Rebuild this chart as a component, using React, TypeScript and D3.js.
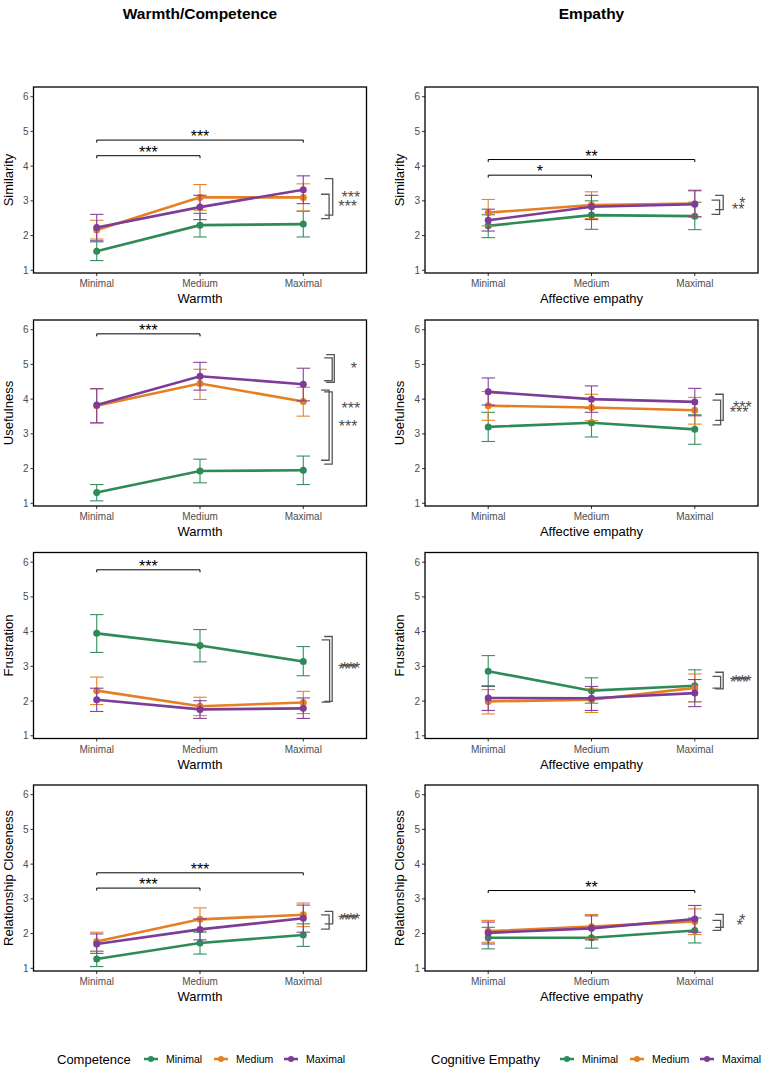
import * as d3 from "d3";

// factor levels (x axis) and moderator groups (colour)
const levels = ["Minimal", "Medium", "Maximal"];
const groups = ["Minimal", "Medium", "Maximal"];
const groupColors = ["#2e8b57", "#e67e22", "#7d3c98"];
const yTicks = [1, 2, 3, 4, 5, 6];

const colTitles = ["Warmth/Competence", "Empathy"];
const xTitles = ["Warmth", "Affective empathy"];
const legendTitles = ["Competence", "Cognitive Empathy"];
const rowTitles = ["Similarity", "Usefulness", "Frustration", "Relationship Closeness"];

// ---- Similarity ----
const simWarmMean = [[1.55, 2.30, 2.33], [2.16, 3.10, 3.10], [2.23, 2.82, 3.32]];
const simWarmLo = [[1.28, 1.96, 1.96], [1.90, 2.73, 2.71], [1.85, 2.46, 2.92]];
const simWarmHi = [[1.82, 2.64, 2.70], [2.44, 3.47, 3.49], [2.61, 3.16, 3.72]];
const simEmpMean = [[2.28, 2.59, 2.56], [2.66, 2.88, 2.92], [2.44, 2.83, 2.90]];
const simEmpLo = [[1.94, 2.18, 2.17], [2.28, 2.49, 2.54], [2.13, 2.46, 2.54]];
const simEmpHi = [[2.60, 3.00, 2.96], [3.04, 3.26, 3.31], [2.76, 3.16, 3.29]];

// ---- Usefulness ----
const useWarmMean = [[1.31, 1.93, 1.95], [3.81, 4.45, 3.93], [3.83, 4.66, 4.43]];
const useWarmLo = [[1.07, 1.59, 1.54], [3.31, 3.99, 3.51], [3.32, 4.26, 3.95]];
const useWarmHi = [[1.54, 2.27, 2.36], [4.30, 4.86, 4.34], [4.30, 5.06, 4.89]];
const useEmpMean = [[3.20, 3.32, 3.13], [3.81, 3.76, 3.68], [4.21, 4.00, 3.92]];
const useEmpLo = [[2.78, 2.91, 2.70], [3.39, 3.38, 3.28], [3.83, 3.62, 3.52]];
const useEmpHi = [[3.62, 3.73, 3.55], [4.22, 4.14, 4.05], [4.61, 4.38, 4.31]];

// ---- Frustration ----
const fruWarmMean = [[3.95, 3.60, 3.14], [2.30, 1.85, 1.96], [2.04, 1.76, 1.79]];
const fruWarmLo = [[3.40, 3.13, 2.73], [1.90, 1.58, 1.64], [1.70, 1.50, 1.50]];
const fruWarmHi = [[4.49, 4.06, 3.57], [2.69, 2.11, 2.28], [2.37, 2.01, 2.09]];
const fruEmpMean = [[2.86, 2.30, 2.44], [1.99, 2.04, 2.38], [2.09, 2.08, 2.23]];
const fruEmpLo = [[2.42, 1.94, 1.98], [1.63, 1.67, 1.98], [1.73, 1.73, 1.84]];
const fruEmpHi = [[3.31, 2.67, 2.90], [2.33, 2.35, 2.78], [2.44, 2.42, 2.62]];

// ---- Relationship closeness ----
const relWarmMean = [[1.27, 1.73, 1.96], [1.77, 2.41, 2.54], [1.70, 2.12, 2.44]];
const relWarmLo = [[1.05, 1.41, 1.63], [1.49, 2.07, 2.20], [1.43, 1.82, 2.04]];
const relWarmHi = [[1.49, 2.04, 2.28], [2.04, 2.74, 2.88], [1.99, 2.42, 2.82]];
const relEmpMean = [[1.88, 1.88, 2.09], [2.07, 2.20, 2.35], [2.02, 2.15, 2.42]];
const relEmpLo = [[1.56, 1.58, 1.73], [1.75, 1.85, 1.97], [1.70, 1.82, 2.04]];
const relEmpHi = [[2.18, 2.18, 2.45], [2.38, 2.55, 2.71], [2.33, 2.51, 2.81]];

// pairwise comparisons between x levels: [from, to, y, label]
const simWarmPairs = [[0, 2, 4.75, "***"], [0, 1, 4.30, "***"]];
const simEmpPairs = [[0, 2, 4.19, "**"], [0, 1, 3.74, "*"]];
const useWarmPairs = [[0, 1, 5.88, "***"]];
const useEmpPairs = [];
const fruWarmPairs = [[0, 1, 5.78, "***"]];
const fruEmpPairs = [];
const relWarmPairs = [[0, 2, 3.75, "***"], [0, 1, 3.31, "***"]];
const relEmpPairs = [[0, 2, 3.24, "**"]];

// group comparisons on the right: [lo, hi, x, label, labelX, labelY]
const simWarmSides = [[2.59, 3.64, 2.285, "***", 2.46, 3.21], [2.49, 3.19, 2.25, "***", 2.43, 2.94]];
const simEmpSides = [[2.75, 3.16, 2.275, "*", 2.46, 3.02], [2.61, 3.02, 2.24, "**", 2.42, 2.86]];
const useWarmSides = [
  [4.48, 5.28, 2.30, "*", 2.49, 4.99], [4.53, 5.19, 2.28, "", 2.49, 4.99],
  [2.24, 4.26, 2.25, "***", 2.46, 3.84], [2.13, 4.21, 2.28, "***", 2.435, 3.32],
];
const useEmpSides = [[3.39, 4.14, 2.275, "***", 2.46, 3.86], [3.26, 3.97, 2.25, "***", 2.43, 3.71]];
const fruWarmSides = [[1.99, 3.86, 2.28, "***", 2.46, 3.05], [1.97, 3.76, 2.255, "***", 2.43, 3.00]];
const fruEmpSides = [[2.35, 2.83, 2.275, "***", 2.46, 2.67], [2.37, 2.71, 2.25, "***", 2.43, 2.64]];
const relWarmSides = [[2.28, 2.64, 2.285, "***", 2.46, 2.52], [2.13, 2.54, 2.25, "***", 2.43, 2.48]];
const relEmpSides = [[2.18, 2.55, 2.275, "*", 2.46, 2.47], [2.09, 2.38, 2.25, "*", 2.435, 2.33]];

const FONT = "'Liberation Sans', Arial, Helvetica, sans-serif";
const W = 765, H = 1074;
const COL_X = [33.5, 425];
const ROW_Y = [87, 320, 552.5, 785];
const PW = 333, PH = 186;

type Panel = {
  mean: number[][]; lo: number[][]; hi: number[][];
  pairs: any[]; sides: any[];
};

const panels: Panel[][] = [
  [
    { mean: simWarmMean, lo: simWarmLo, hi: simWarmHi, pairs: simWarmPairs, sides: simWarmSides },
    { mean: simEmpMean, lo: simEmpLo, hi: simEmpHi, pairs: simEmpPairs, sides: simEmpSides },
  ],
  [
    { mean: useWarmMean, lo: useWarmLo, hi: useWarmHi, pairs: useWarmPairs, sides: useWarmSides },
    { mean: useEmpMean, lo: useEmpLo, hi: useEmpHi, pairs: useEmpPairs, sides: useEmpSides },
  ],
  [
    { mean: fruWarmMean, lo: fruWarmLo, hi: fruWarmHi, pairs: fruWarmPairs, sides: fruWarmSides },
    { mean: fruEmpMean, lo: fruEmpLo, hi: fruEmpHi, pairs: fruEmpPairs, sides: fruEmpSides },
  ],
  [
    { mean: relWarmMean, lo: relWarmLo, hi: relWarmHi, pairs: relWarmPairs, sides: relWarmSides },
    { mean: relEmpMean, lo: relEmpLo, hi: relEmpHi, pairs: relEmpPairs, sides: relEmpSides },
  ],
];

function PanelPlot({ p, row, col }: { p: Panel; row: number; col: number }) {
  const left = COL_X[col], top = ROW_Y[row];
  const x = d3.scaleLinear().domain([-0.612, 2.612]).range([left, left + PW]);
  const y = d3.scaleLinear().domain([0.922, 6.279]).range([top + PH, top]);
  const line = d3.line<number>().x((_, i) => x(i)).y(d => y(d));
  const cap = 0.065;
  const bottom = top + PH;

  return (
    <g>
      {/* axes */}
      {yTicks.map(t => (
        <g key={"y" + t}>
          <line x1={left - 3} x2={left} y1={y(t)} y2={y(t)} stroke="#333" strokeWidth={1} />
          <text x={left - 5} y={y(t) + 3.5} textAnchor="end" fontSize={10} fill="#4d4d4d" fontFamily={FONT}>{t}</text>
        </g>
      ))}
      {levels.map((l, i) => (
        <g key={"x" + l}>
          <line x1={x(i)} x2={x(i)} y1={bottom} y2={bottom + 3} stroke="#333" strokeWidth={1} />
          <text x={x(i)} y={bottom + 14} textAnchor="middle" fontSize={10} fill="#4d4d4d" fontFamily={FONT}>{l}</text>
        </g>
      ))}
      <text x={left + PW / 2} y={bottom + 30} textAnchor="middle" fontSize={13} fill="#000" fontFamily={FONT}>{xTitles[col]}</text>
      <text transform={`translate(${left - 21},${top + PH / 2}) rotate(-90)`} textAnchor="middle" fontSize={13} fill="#000" fontFamily={FONT}>{rowTitles[row]}</text>

      {/* series */}
      {groups.map((g, gi) => (
        <g key={g}>
          {p.mean[gi].map((m, i) => (
            <g key={i} stroke={groupColors[gi]} strokeWidth={1.1} opacity={0.95}>
              <line x1={x(i)} x2={x(i)} y1={y(p.lo[gi][i])} y2={y(p.hi[gi][i])} />
              <line x1={x(i - cap)} x2={x(i + cap)} y1={y(p.lo[gi][i])} y2={y(p.lo[gi][i])} />
              <line x1={x(i - cap)} x2={x(i + cap)} y1={y(p.hi[gi][i])} y2={y(p.hi[gi][i])} />
            </g>
          ))}
          <path d={line(p.mean[gi]) || ""} fill="none" stroke={groupColors[gi]} strokeWidth={2.6} />
          {p.mean[gi].map((m, i) => (
            <circle key={"c" + i} cx={x(i)} cy={y(m)} r={3.5} fill={groupColors[gi]} />
          ))}
        </g>
      ))}

      {/* pairwise brackets between levels */}
      {p.pairs.map(([a, b, v, lab], k) => (
        <g key={"p" + k}>
          <path d={`M${x(a)},${y(v) + 2.5}V${y(v)}H${x(b)}V${y(v) + 2.5}`} fill="none" stroke="#000" strokeWidth={1} />
          <text x={(x(a) + x(b)) / 2} y={y(v) + 2.3} textAnchor="middle" fontSize={16} fill="#000" fontFamily={FONT}>{lab}</text>
        </g>
      ))}

      {/* group brackets on the right */}
      {p.sides.map(([lo, hi, bx, lab, lx, ly], k) => (
        <g key={"s" + k}>
          <path d={`M${x(bx - 0.078)},${y(hi)}H${x(bx)}V${y(lo)}H${x(bx - 0.078)}`} fill="none" stroke="#555" strokeWidth={1.3} />
          <text x={x(lx)} y={y(ly) + 9} textAnchor="middle" fontSize={16} fill="#4d4d4d" fontFamily={FONT}>{lab}</text>
        </g>
      ))}

      <rect x={left} y={top} width={PW} height={PH} fill="none" stroke="#000" strokeWidth={1.3} />
    </g>
  );
}

const LEGEND_X = [57, 431];

function Legend({ col }: { col: number }) {
  const x0 = LEGEND_X[col];
  const titleW = col === 0 ? 77 : 119;
  const cy = 1059;
  return (
    <g fontFamily={FONT}>
      <text x={x0} y={cy + 4.5} fontSize={13} fill="#000">{legendTitles[col]}</text>
      {groups.map((g, gi) => {
        const kx = x0 + titleW + 17 + gi * 70;
        return (
          <g key={g}>
            <line x1={kx - 7} x2={kx + 7} y1={cy} y2={cy} stroke={groupColors[gi]} strokeWidth={2.5} />
            <circle cx={kx} cy={cy} r={3} fill={groupColors[gi]} />
            <text x={kx + 15} y={cy + 3.8} fontSize={10.5} fill="#000">{g}</text>
          </g>
        );
      })}
    </g>
  );
}

export default function App() {
  return (
    <svg width={W} height={H} style={{ position: "absolute", left: 0, top: 0, background: "#fff" }}>
      <rect width={W} height={H} fill="#fff" />
      {colTitles.map((t, c) => (
        <text key={t} x={COL_X[c] + PW / 2} y={19} textAnchor="middle" fontSize={15.5} fontWeight="bold" fontFamily={FONT}>{t}</text>
      ))}
      {panels.map((r, ri) => r.map((p, ci) => (
        <PanelPlot key={ri + "-" + ci} p={p} row={ri} col={ci} />
      )))}
      <Legend col={0} />
      <Legend col={1} />
    </svg>
  );
}
